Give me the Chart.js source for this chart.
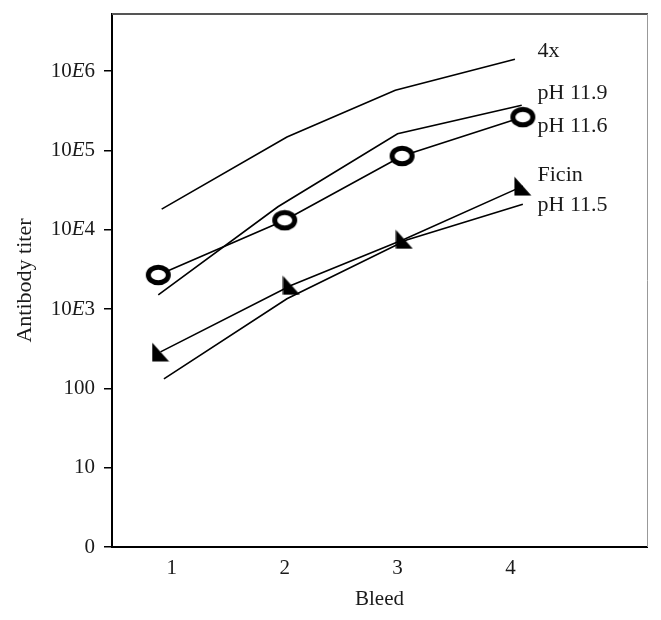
<!DOCTYPE html>
<html>
<head>
<meta charset="utf-8">
<script src="https://cdn.jsdelivr.net/npm/chart.js@4.4.1/dist/chart.umd.min.js"></script>
<style>
  html, body { margin: 0; padding: 0; background: #fff; }
  #wrap { width: 661px; height: 620px; }
</style>
</head>
<body>
<div id="wrap"><canvas id="titerChart" width="661" height="620"></canvas></div>
<script>
// Bleed number (x) and log10 of antibody titer (y)
const bleed4x     = [0.91, 2.02, 2.98, 4.04];
const titer4x     = [4.26, 5.17, 5.76, 6.15];

const bleedPh119  = [0.88, 1.94, 3.00, 4.10];
const titerPh119  = [3.18, 4.29, 5.21, 5.57];

const bleedPh116  = [0.88, 2.00, 3.04, 4.11];
const titerPh116  = [3.43, 4.12, 4.93, 5.42];

const bleedFicin  = [0.90, 2.06, 3.06, 4.11];
const titerFicin  = [2.46, 3.30, 3.88, 4.55];

const bleedPh115  = [0.93, 2.02, 3.08, 4.11];
const titerPh115  = [2.12, 3.13, 3.87, 4.32];

// y tick labels (one per decade, starting at 0); the E is set in italic
const yTickLabels = ['0', '10', '100', '10E3', '10E4', '10E5', '10E6'];
const xTickLabels = ['1', '2', '3', '4'];

// series labels written at the right end of the lines
const seriesNames  = ['4x', 'pH 11.9', 'pH 11.6', 'Ficin', 'pH 11.5'];
const seriesNameY  = [6.25, 5.72, 5.30, 4.69, 4.31];
const seriesNameX  = 4.24;

const SERIF = '"Liberation Serif", "DejaVu Serif", serif';
const INK = '#1a1a1a';

function pts(xs, ys) {
    return xs.map((x, i) => ({ x: x, y: ys[i] }));
}

// open ring marker, a bit wider than tall
function ringMarker() {
    const c = document.createElement('canvas');
    c.width = 27; c.height = 22;
    const g = c.getContext('2d');
    g.beginPath();
    g.ellipse(13.5, 11, 10, 7.8, 0, 0, Math.PI * 2);
    g.fillStyle = '#fff';
    g.fill();
    g.lineWidth = 5;
    g.strokeStyle = '#000';
    g.stroke();
    return c;
}

// right-angled triangle, corner at bottom-left
function triMarker() {
    const c = document.createElement('canvas');
    c.width = 18; c.height = 20;
    const g = c.getContext('2d');
    g.beginPath();
    g.moveTo(0.5, 0.5);
    g.lineTo(0.5, 19.5);
    g.lineTo(17.5, 19.5);
    g.closePath();
    g.fillStyle = '#000';
    g.fill();
    return c;
}

const lineOpts = {
    borderColor: '#000',
    borderWidth: 1.6,
    fill: false,
    tension: 0,
    pointRadius: 0
};

// frame on top/right, y tick labels with italic E, series names
const extras = {
    id: 'extras',
    afterDraw(chart) {
        const ctx = chart.ctx;
        const a = chart.chartArea;
        const xs = chart.scales.x, ys = chart.scales.y;
        ctx.save();
        ctx.lineWidth = 2;
        ctx.strokeStyle = '#555';
        ctx.beginPath();
        ctx.moveTo(a.left, a.top);
        ctx.lineTo(a.right + 1, a.top);
        ctx.stroke();
        ctx.lineWidth = 1;
        ctx.strokeStyle = '#999';
        ctx.beginPath();
        ctx.moveTo(a.right + 0.5, a.top);
        ctx.lineTo(a.right + 0.5, a.bottom);
        ctx.stroke();

        ctx.fillStyle = INK;
        ctx.textBaseline = 'middle';
        ctx.textAlign = 'left';

        // y tick labels
        const up = '21px ' + SERIF, it = 'italic 21px ' + SERIF;
        const right = a.left - 17;
        yTickLabels.forEach((lab, i) => {
            const y = ys.getPixelForValue(i);
            const parts = lab.split('E');
            const bits = parts.length === 2
                ? [[parts[0], up], ['E', it], [parts[1], up]]
                : [[lab, up]];
            let w = 0;
            bits.forEach(b => { ctx.font = b[1]; w += ctx.measureText(b[0]).width; });
            let x = right - w;
            bits.forEach(b => {
                ctx.font = b[1];
                ctx.fillText(b[0], x, y);
                x += ctx.measureText(b[0]).width;
            });
        });

        // series names
        ctx.font = '22px ' + SERIF;
        seriesNames.forEach((n, i) => {
            ctx.fillText(n, xs.getPixelForValue(seriesNameX), ys.getPixelForValue(seriesNameY[i]));
        });
        ctx.restore();
    }
};

new Chart(document.getElementById('titerChart'), {
    type: 'line',
    data: {
        datasets: [
            Object.assign({ label: '4x', data: pts(bleed4x, titer4x) }, lineOpts),
            Object.assign({ label: 'pH 11.9', data: pts(bleedPh119, titerPh119) }, lineOpts),
            Object.assign({ label: 'pH 11.5', data: pts(bleedPh115, titerPh115) }, lineOpts),
            Object.assign({}, lineOpts, {
                label: 'pH 11.6', data: pts(bleedPh116, titerPh116),
                pointRadius: 10, pointStyle: ringMarker()
            }),
            Object.assign({}, lineOpts, {
                label: 'Ficin', data: pts(bleedFicin, titerFicin),
                pointRadius: 10, pointStyle: triMarker()
            })
        ]
    },
    options: {
        responsive: false,
        animation: false,
        events: [],
        layout: { padding: { top: 14, right: 14, left: 0, bottom: 0 } },
        plugins: {
            legend: { display: false },
            tooltip: { enabled: false }
        },
        scales: {
            x: {
                type: 'linear',
                min: 0.47,
                max: 5.21,
                afterFit(s) { s.height = 73; },
                border: { display: true, color: '#000', width: 2 },
                grid: { display: false },
                ticks: {
                    stepSize: 1,
                    includeBounds: false,
                    autoSkip: false,
                    maxRotation: 0,
                    padding: 1,
                    color: INK,
                    font: { family: SERIF, size: 21 },
                    callback: (v) => xTickLabels[v - 1] ?? null
                },
                title: {
                    display: true,
                    text: 'Bleed',
                    color: INK,
                    font: { family: SERIF, size: 21 },
                    padding: { top: 4, bottom: 8 }
                }
            },
            y: {
                type: 'linear',
                min: 0,
                max: 6.72,
                afterFit(s) { s.width = 112; },
                border: { display: true, color: '#000', width: 2 },
                grid: {
                    drawOnChartArea: false,
                    drawTicks: true,
                    tickLength: 8,
                    color: '#000',
                    lineWidth: 1.5
                },
                ticks: {
                    stepSize: 1,
                    includeBounds: false,
                    autoSkip: false,
                    padding: 4,
                    // labels are drawn by the extras plugin (italic E)
                    callback: (v) => (yTickLabels[v] !== undefined ? '' : null)
                },
                title: {
                    display: true,
                    text: 'Antibody titer',
                    color: INK,
                    font: { family: SERIF, size: 22 },
                    padding: { top: 12, bottom: 4 }
                }
            }
        }
    },
    plugins: [extras]
});
</script>
</body>
</html>
